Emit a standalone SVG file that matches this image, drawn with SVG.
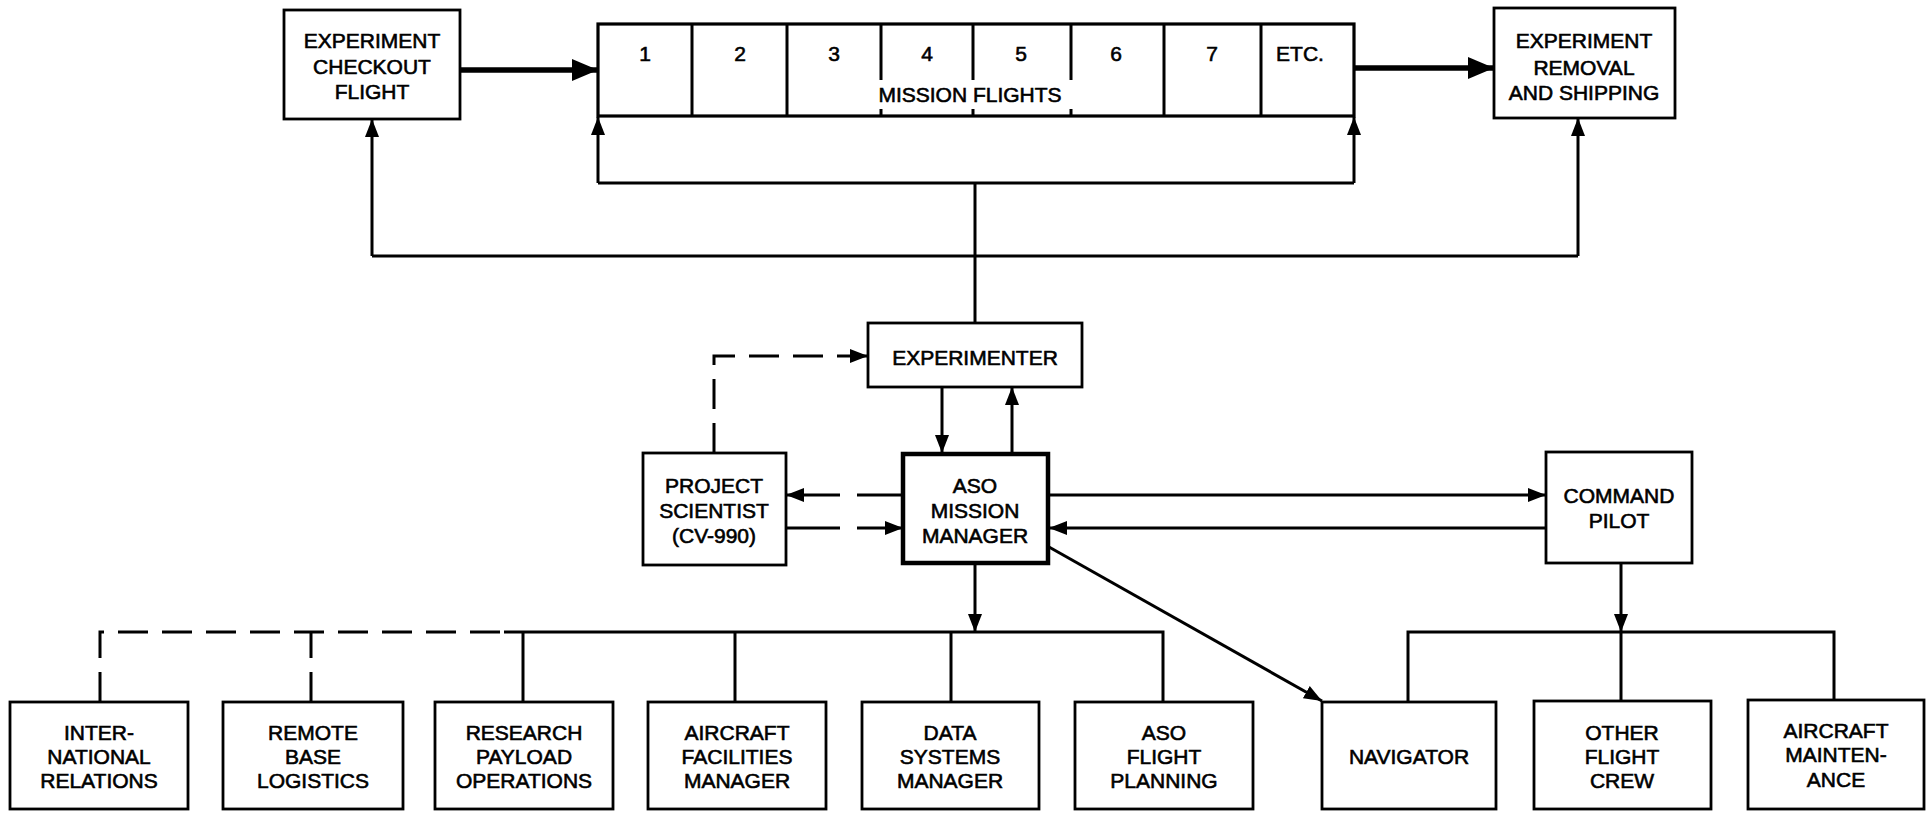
<svg xmlns="http://www.w3.org/2000/svg" width="1927" height="820" viewBox="0 0 1927 820">
<style>
.box{fill:#fff;stroke:#000;stroke-width:2.8}
.thick{fill:#fff;stroke:#000;stroke-width:4.5}
.t{font-family:"Liberation Sans",Arial,sans-serif;font-size:21px;fill:#000;stroke:#000;stroke-width:0.6;text-anchor:middle}
.ln{fill:none;stroke:#000;stroke-width:3}
.bold{fill:none;stroke:#000;stroke-width:5.5}
.dash{fill:none;stroke:#000;stroke-width:3;stroke-dasharray:30 14}
</style>
<defs>
<marker id="a" markerUnits="userSpaceOnUse" markerWidth="18" markerHeight="14" refX="18" refY="7" orient="auto"><path d="M0,0 L18,7 L0,14 Z" fill="#000"/></marker>
<marker id="b" markerUnits="userSpaceOnUse" markerWidth="26" markerHeight="22" refX="26" refY="11" orient="auto"><path d="M0,0 L26,11 L0,22 Z" fill="#000"/></marker>
</defs>
<rect width="1927" height="820" fill="#fff"/>
<g id="connectors">
<line class="bold" x1="460" y1="70" x2="598" y2="70" marker-end="url(#b)"/>
<line class="bold" x1="1354" y1="68" x2="1494" y2="68" marker-end="url(#b)"/>
<path class="ln" d="M598,183 H1354"/>
<path class="ln" d="M598,183 V117" marker-end="url(#a)"/>
<path class="ln" d="M1354,183 V117" marker-end="url(#a)"/>
<path class="ln" d="M975,183 V323"/>
<path class="ln" d="M372,256 H1578"/>
<path class="ln" d="M372,256 V119" marker-end="url(#a)"/>
<path class="ln" d="M1578,256 V118" marker-end="url(#a)"/>
<path class="dash" d="M714,453 V356 H868" marker-end="url(#a)"/>
<path class="ln" d="M942,387 V453" marker-end="url(#a)"/>
<path class="ln" d="M1012,453 V387" marker-end="url(#a)"/>
<path class="ln" d="M903,495 H857"/>
<path class="ln" d="M840,495 H786" marker-end="url(#a)"/>
<path class="ln" d="M786,528 H840"/>
<path class="ln" d="M857,528 H903" marker-end="url(#a)"/>
<path class="ln" d="M1049,495 H1546" marker-end="url(#a)"/>
<path class="ln" d="M1546,528 H1049" marker-end="url(#a)"/>
<path class="ln" d="M1049,547 L1322,701" marker-end="url(#a)"/>
<path class="ln" d="M1621,563 V632" marker-end="url(#a)"/>
<path class="ln" d="M1408,701 V632 H1834 V700"/>
<path class="ln" d="M1621,632 V700"/>
<path class="ln" d="M975,563 V632" marker-end="url(#a)"/>
<path class="ln" d="M504,632 H1163 V701"/>
<path class="ln" d="M523,632 V702"/>
<path class="ln" d="M735,632 V702"/>
<path class="ln" d="M951,632 V702"/>
<path class="dash" d="M100,702 V632 H504"/>
<path class="dash" d="M311,702 V632"/>
</g>
<g id="checkout"><rect class="box" x="284" y="10" width="176" height="109"/>
<text class="t" x="372" y="48">EXPERIMENT</text><text class="t" x="372" y="74">CHECKOUT</text><text class="t" x="372" y="99">FLIGHT</text></g>
<g id="mission-flights"><rect class="box" x="598" y="24" width="756" height="92" style="stroke-width:3.2"/>
<path class="ln" d="M692,24 V116 M787,24 V116 M1164,24 V116 M1261,24 V116 M881,24 V80 M973,24 V80 M1071,24 V80 M881,109 V116 M973,109 V116 M1071,109 V116"/>
<text class="t" x="645" y="61">1</text><text class="t" x="740" y="61">2</text><text class="t" x="834" y="61">3</text><text class="t" x="927" y="61">4</text><text class="t" x="1021" y="61">5</text><text class="t" x="1116" y="61">6</text><text class="t" x="1212" y="61">7</text><text class="t" x="1300" y="61">ETC.</text>
<text class="t" x="970" y="102">MISSION FLIGHTS</text></g>
<g id="removal"><rect class="box" x="1494" y="8" width="181" height="110"/>
<text class="t" x="1584" y="48">EXPERIMENT</text><text class="t" x="1584" y="75">REMOVAL</text><text class="t" x="1584" y="100">AND SHIPPING</text></g>
<g id="experimenter"><rect class="box" x="868" y="323" width="214" height="64"/>
<text class="t" x="975" y="365">EXPERIMENTER</text></g>
<g id="project-scientist"><rect class="box" x="643" y="453" width="143" height="112"/>
<text class="t" x="714" y="493">PROJECT</text><text class="t" x="714" y="518">SCIENTIST</text><text class="t" x="714" y="543">(CV-990)</text></g>
<g id="mission-manager"><rect class="thick" x="903" y="454" width="145" height="109"/>
<text class="t" x="975" y="493">ASO</text><text class="t" x="975" y="518">MISSION</text><text class="t" x="975" y="543">MANAGER</text></g>
<g id="command-pilot"><rect class="box" x="1546" y="452" width="146" height="111"/>
<text class="t" x="1619" y="503">COMMAND</text><text class="t" x="1619" y="528">PILOT</text></g>
<g id="international"><rect class="box" x="10" y="702" width="178" height="107"/>
<text class="t" x="99" y="740">INTER-</text><text class="t" x="99" y="764">NATIONAL</text><text class="t" x="99" y="788">RELATIONS</text></g>
<g id="remote-base"><rect class="box" x="223" y="702" width="180" height="107"/>
<text class="t" x="313" y="740">REMOTE</text><text class="t" x="313" y="764">BASE</text><text class="t" x="313" y="788">LOGISTICS</text></g>
<g id="research-payload"><rect class="box" x="435" y="702" width="178" height="107"/>
<text class="t" x="524" y="740">RESEARCH</text><text class="t" x="524" y="764">PAYLOAD</text><text class="t" x="524" y="788">OPERATIONS</text></g>
<g id="aircraft-facilities"><rect class="box" x="648" y="702" width="178" height="107"/>
<text class="t" x="737" y="740">AIRCRAFT</text><text class="t" x="737" y="764">FACILITIES</text><text class="t" x="737" y="788">MANAGER</text></g>
<g id="data-systems"><rect class="box" x="862" y="702" width="177" height="107"/>
<text class="t" x="950" y="740">DATA</text><text class="t" x="950" y="764">SYSTEMS</text><text class="t" x="950" y="788">MANAGER</text></g>
<g id="flight-planning"><rect class="box" x="1075" y="702" width="178" height="107"/>
<text class="t" x="1164" y="740">ASO</text><text class="t" x="1164" y="764">FLIGHT</text><text class="t" x="1164" y="788">PLANNING</text></g>
<g id="navigator"><rect class="box" x="1322" y="702" width="174" height="107"/>
<text class="t" x="1409" y="764">NAVIGATOR</text></g>
<g id="other-crew"><rect class="box" x="1534" y="701" width="177" height="108"/>
<text class="t" x="1622" y="740">OTHER</text><text class="t" x="1622" y="764">FLIGHT</text><text class="t" x="1622" y="788">CREW</text></g>
<g id="maintenance"><rect class="box" x="1748" y="700" width="176" height="109"/>
<text class="t" x="1836" y="738">AIRCRAFT</text><text class="t" x="1836" y="762">MAINTEN-</text><text class="t" x="1836" y="787">ANCE</text></g>
</svg>
